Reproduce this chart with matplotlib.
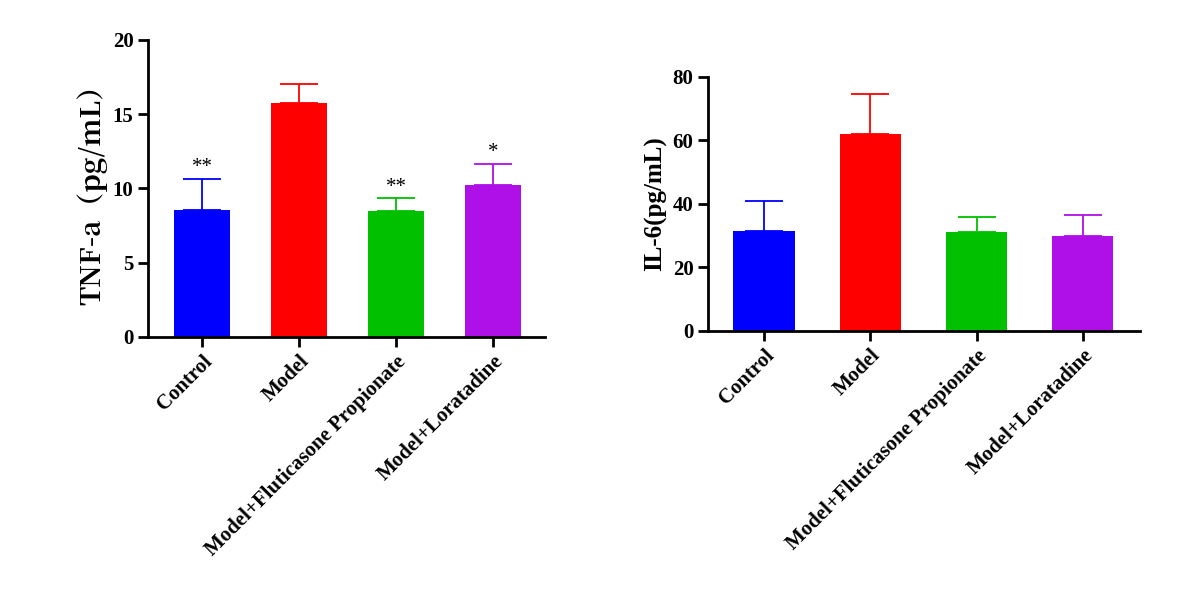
import numpy as np
import matplotlib
matplotlib.use("Agg")
import matplotlib.pyplot as plt

plt.rcParams['font.family'] = ['Liberation Serif', 'DejaVu Serif']
plt.rcParams['font.weight'] = 'bold'

groups = ['Control', 'Model', 'Model+Fluticasone Propionate', 'Model+Loratadine']
colors = ['#0000ff', '#ff0000', '#00c000', '#b010e8']
tnf_mean = [8.55, 15.75, 8.5, 10.2]
tnf_sd = [2.1, 1.3, 0.85, 1.45]
tnf_sig = ['**', '', '**', '*']
il6_mean = [31.5, 62.0, 31.0, 30.0]
il6_sd = [9.5, 12.5, 5.0, 6.5]

fig = plt.figure(figsize=(12, 6.05), dpi=100)
ax1 = fig.add_axes([0.1233, 0.443, 0.331, 0.491])
ax2 = fig.add_axes([0.59, 0.453, 0.36, 0.42])

def draw(ax, mean, sd, ylim, yticks, ylabel, xl, sig=None):
    x = np.arange(len(groups))
    for i in range(len(groups)):
        ax.bar(x[i], mean[i], width=0.58, color=colors[i], zorder=2)
        ax.errorbar(x[i], mean[i], yerr=[[0], [sd[i]]], color=colors[i],
                    capsize=14, elinewidth=1.3, capthick=1.3, zorder=1)
        if sig and sig[i]:
            ax.text(x[i], mean[i] + sd[i] + ylim * 0.005, sig[i], ha='center',
                    va='bottom', fontsize=15, fontweight='normal')
    ax.set_xlim(*xl)
    ax.set_ylim(0, ylim)
    ax.set_yticks(yticks)
    ax.set_xticks(x)
    ax.set_xticklabels(groups, rotation=45, ha='right', rotation_mode='anchor',
                       fontsize=15, fontweight='bold')
    ax.tick_params(axis='y', labelsize=15, width=2, length=7)
    ax.tick_params(axis='x', width=2, length=7)
    for lab in ax.get_yticklabels():
        lab.set_fontweight('bold')
    for s in ['top', 'right']:
        ax.spines[s].set_visible(False)
    for s in ['left', 'bottom']:
        ax.spines[s].set_linewidth(2)
    ax.set_ylabel(ylabel, fontweight='bold')

draw(ax1, tnf_mean, tnf_sd, 20, [0, 5, 10, 15, 20], '', (-0.557, 3.536), tnf_sig)
ax1.set_ylabel('TNF-a（pg/mL）', fontsize=20, fontweight='bold',
               family=['Noto Serif CJK SC', 'Liberation Serif', 'DejaVu Serif'])
draw(ax2, il6_mean, il6_sd, 80, [0, 20, 40, 60, 80], '', (-0.53, 3.54))
ax2.set_ylabel('IL-6(pg/mL)', fontsize=18, fontweight='bold')

fig.savefig('out.png', dpi=100)
